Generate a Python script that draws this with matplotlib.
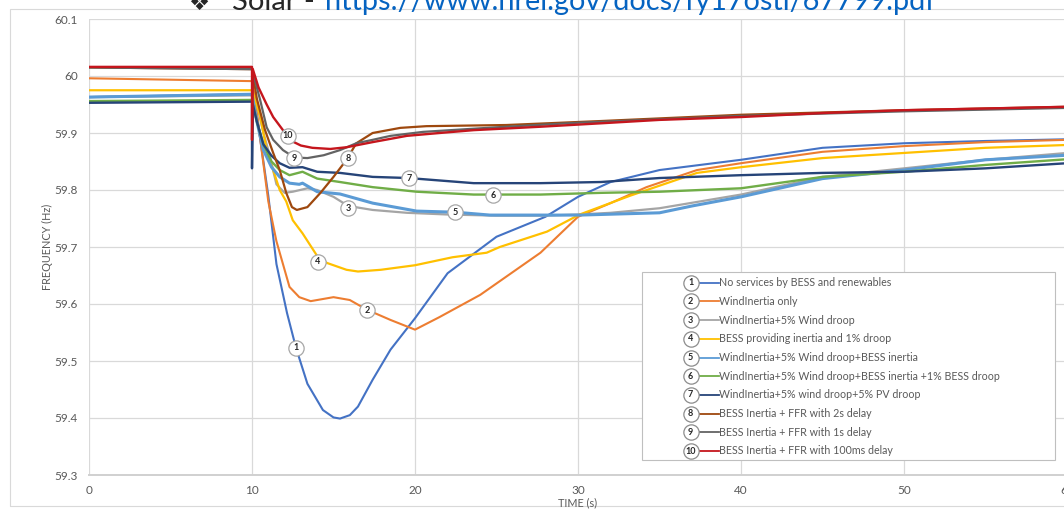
import matplotlib
matplotlib.use("Agg")
import matplotlib.pyplot as plt
from matplotlib.lines import Line2D
from matplotlib.patches import Rectangle

W, H = 1064, 509

# ---- data -------------------------------------------------------------
names = [
    "No services by BESS and renewables",
    "WindInertia only",
    "WindInertia+5% Wind droop",
    "BESS providing inertia and 1% droop",
    "WindInertia+5% Wind droop+BESS inertia",
    "WindInertia+5% Wind droop+BESS inertia +1% BESS droop",
    "WindInertia+5% wind droop+5% PV droop",
    "BESS Inertia + FFR with 2s delay",
    "BESS Inertia + FFR with 1s delay",
    "BESS Inertia + FFR with 100ms delay",
]
colors = ["#4472C4", "#ED7D31", "#A5A5A5", "#FFC000", "#5B9BD5",
          "#70AD47", "#264478", "#9E480E", "#636363", "#C5161D"]

t1 = [0, 10, 10.3, 10.7, 11.0, 11.5, 12.15, 12.7, 13.4, 14.35, 15.0, 15.4, 16.0, 16.5,
      17.4, 18.5, 20, 22, 25, 28, 30, 32, 35, 40, 45, 50, 55, 60]
f1 = [59.963, 59.968, 59.93, 59.85, 59.79, 59.67, 59.584, 59.523, 59.46, 59.414, 59.401,
      59.399, 59.405, 59.42, 59.467, 59.52, 59.575, 59.654, 59.718, 59.753, 59.788,
      59.814, 59.835, 59.853, 59.874, 59.882, 59.886, 59.889]

t2 = [0, 10, 10.2, 10.5, 11.0, 11.5, 11.9, 12.3, 12.9, 13.6, 15.0, 16.0, 17.05, 18.5,
      20, 21.5, 24, 27.7, 30, 32, 34.2, 37.3, 40, 45, 50, 55, 60]
f2 = [59.996, 59.991, 59.96, 59.89, 59.78, 59.71, 59.67, 59.63, 59.612, 59.605, 59.612,
      59.607, 59.59, 59.572, 59.555, 59.577, 59.616, 59.69, 59.753, 59.777, 59.805,
      59.835, 59.847, 59.867, 59.877, 59.884, 59.888]

t3 = [0, 10, 10.3, 10.7, 11.0, 11.5, 12.0, 12.5, 13.4, 14.0, 15.0, 15.9, 17.4, 19.5,
      22, 25, 28, 30, 32, 35, 40, 45, 50, 55, 60]
f3 = [59.963, 59.966, 59.95, 59.90, 59.87, 59.81, 59.795, 59.797, 59.803, 59.80,
      59.788, 59.772, 59.765, 59.76, 59.757, 59.755, 59.755, 59.757, 59.76, 59.768,
      59.792, 59.823, 59.838, 59.853, 59.865]

t4 = [0, 10, 10.5, 10.9, 11.3, 11.7, 12.1, 12.5, 13.1, 14.05, 14.6, 15.8, 16.5, 17.9,
      20, 22.3, 24.4, 25.2, 28.1, 30.1, 33.2, 37.3, 40, 45, 50, 55, 60]
f4 = [59.975, 59.975, 59.93, 59.87, 59.835, 59.80, 59.78, 59.747, 59.724, 59.682,
      59.672, 59.66, 59.657, 59.66, 59.668, 59.682, 59.69, 59.70, 59.727, 59.757,
      59.79, 59.83, 59.84, 59.856, 59.865, 59.874, 59.879]

t5 = [0, 10, 10.3, 10.7, 11.2, 11.7, 12.3, 12.9, 13.1, 14.0, 15.4, 17.4, 20.1, 22.5,
      24.6, 27.7, 30.1, 35, 37, 40, 45, 50, 55, 60]
f5 = [59.963, 59.968, 59.92, 59.87, 59.84, 59.823, 59.812, 59.81, 59.812, 59.797,
      59.793, 59.777, 59.763, 59.761, 59.756, 59.756, 59.756, 59.76, 59.772, 59.788,
      59.82, 59.835, 59.853, 59.861]

t6 = [0, 10, 10.3, 10.7, 11.2, 11.7, 12.3, 13.1, 14.0, 15.4, 17.4, 20.1, 23.6, 27.7,
      31.4, 35, 40, 45, 50, 55, 60]
f6 = [59.956, 59.958, 59.92, 59.88, 59.85, 59.835, 59.826, 59.832, 59.82, 59.814,
      59.805, 59.797, 59.792, 59.792, 59.795, 59.797, 59.803, 59.823, 59.832, 59.844,
      59.854]

t7 = [0, 10, 10, 10.05, 10.3, 10.7, 11.2, 11.7, 12.3, 13.1, 14.0, 15.4, 17.4, 19.6,
      23.6, 27.7, 31.4, 35, 40, 45, 50, 55, 60]
f7 = [59.953, 59.955, 59.838, 59.95, 59.92, 59.88, 59.86, 59.847, 59.839, 59.84,
      59.832, 59.83, 59.823, 59.821, 59.812, 59.812, 59.814, 59.821, 59.826, 59.83,
      59.832, 59.838, 59.847]

t8 = [0, 10, 10.3, 10.8, 11.3, 11.7, 12.1, 12.45, 12.75, 13.4, 14.2, 15.0, 15.8, 16.4,
      17.4, 19.1, 20.7, 25.6, 31.4, 40, 50, 60]
f8 = [60.015, 60.012, 59.96, 59.905, 59.865, 59.835, 59.795, 59.77, 59.765, 59.77,
      59.795, 59.823, 59.853, 59.882, 59.90, 59.909, 59.912, 59.914, 59.921, 59.932,
      59.94, 59.946]

t9 = [0, 10, 10.5, 10.9, 11.3, 11.9, 12.6, 13.4, 14.4, 15.4, 16.4, 17.4, 18.5, 20.5,
      25, 30, 40, 50, 60]
f9 = [60.015, 60.012, 59.958, 59.91, 59.888, 59.87, 59.857, 59.856, 59.861, 59.87,
      59.882, 59.888, 59.895, 59.902, 59.91, 59.918, 59.93, 59.938, 59.944]

t10 = [0, 10, 10, 10.05, 10.4, 10.9, 11.3, 11.9, 12.5, 13.0, 13.7, 14.8, 15.8, 17.4,
       19.5, 21.5, 23.6, 27.7, 31.4, 35, 40, 45, 50, 55, 60]
f10 = [60.016, 60.016, 59.888, 60.012, 59.98, 59.95, 59.928, 59.905, 59.885, 59.878,
       59.874, 59.872, 59.875, 59.884, 59.895, 59.90, 59.905, 59.911, 59.917, 59.923,
       59.928, 59.935, 59.94, 59.943, 59.946]

times = [t1, t2, t3, t4, t5, t6, t7, t8, t9, t10]
freqs = [f1, f2, f3, f4, f5, f6, f7, f8, f9, f10]
widths = [1.5, 1.5, 1.6, 1.6, 2.2, 1.7, 1.7, 1.6, 1.6, 1.7]

# circled series numbers placed on the curves (time, frequency)
tag_t = [12.7, 17.05, 15.89, 14.05, 22.45, 24.79, 19.63, 15.89, 12.58, 12.21]
tag_f = [59.523, 59.589, 59.768, 59.674, 59.761, 59.791, 59.821, 59.856, 59.856, 59.895]

x_ticks = [0, 10, 20, 30, 40, 50, 60]
y_ticks = [59.3, 59.4, 59.5, 59.6, 59.7, 59.8, 59.9, 60.0, 60.1]
y_tick_labels = ["59.3", "59.4", "59.5", "59.6", "59.7", "59.8", "59.9", "60", "60.1"]

# ---- figure -----------------------------------------------------------
FONT = ["Lato", "DejaVu Sans"]
plt.rcParams["font.family"] = FONT
GREY_TXT = "#595959"


def fx(x):
    return x / W


def fy(y):
    return 1 - y / H


fig = plt.figure(figsize=(W / 100, H / 100), dpi=100)
fig.patch.set_facecolor("white")

# outer chart frame
fig.add_artist(Rectangle((fx(10), fy(506)), fx(1070) - fx(10), fy(9) - fy(506),
                         transform=fig.transFigure, fill=False,
                         edgecolor="#D9D9D9", lw=0.8))

# heading line above the chart
fig.text(fx(188), fy(10), "\u2756", family=["DejaVu Sans"], fontsize=17,
         color="#262626", va="baseline")
fig.text(fx(232), fy(10), "Solar - ", fontsize=21, color="#262626", va="baseline")
fig.text(fx(325), fy(10), "https://www.nrel.gov/docs/fy17osti/67799.pdf",
         fontsize=20.8, color="#0563C1", va="baseline")

ax = fig.add_axes([fx(89), fy(475), fx(1067) - fx(89), fy(19) - fy(475)])
ax.set_xlim(0, 60)
ax.set_ylim(59.3, 60.1)

for t, f, c, lw in zip(times, freqs, colors, widths):
    ax.plot(t, f, color=c, lw=lw, solid_joinstyle="round", zorder=3)

for i, (tt, ff) in enumerate(zip(tag_t, tag_f)):
    ax.plot(tt, ff, "o", ms=11, mfc="white", mec="#A6A6A6", mew=0.9, zorder=5)
    ax.text(tt, ff, str(i + 1), ha="center", va="center", fontsize=6.5,
            fontweight="bold", color="#262626", zorder=6)

ax.set_xticks(x_ticks)
ax.set_yticks(y_ticks)
ax.set_yticklabels(y_tick_labels)
ax.grid(True, color="#D9D9D9", lw=0.9)
ax.set_axisbelow(True)
for s in ["top", "right", "left"]:
    ax.spines[s].set_visible(False)
ax.spines["bottom"].set_color("#D0D0D0")
ax.spines["bottom"].set_linewidth(1.4)
ax.tick_params(length=0, labelsize=8.5, labelcolor=GREY_TXT, pad=8)
ax.tick_params(axis="x", pad=7)

# axis titles
fig.text(fx(578), fy(503), "TIME (s)", fontsize=7.8, color=GREY_TXT,
         ha="center", va="center")
fig.text(fx(47), fy(247), "FREQUENCY (Hz)", fontsize=7.8, color=GREY_TXT,
         ha="center", va="center", rotation=90)

# legend panel with circled series numbers
fig.add_artist(Rectangle((fx(642), fy(460)), fx(1055) - fx(642), fy(272) - fy(460),
                         transform=fig.transFigure, facecolor="white",
                         edgecolor="#BFBFBF", lw=0.8, zorder=10))
for i, (name, c) in enumerate(zip(names, colors)):
    yy = 282.7 + i * 18.7
    fig.add_artist(Line2D([fx(698), fx(719)], [fy(yy), fy(yy)],
                          transform=fig.transFigure, color=c, lw=1.3, zorder=11))
    fig.add_artist(Line2D([fx(690.7)], [fy(yy)], transform=fig.transFigure,
                          marker="o", ms=11, mfc="white", mec="#8C8C8C", mew=0.9,
                          zorder=12))
    fig.text(fx(690.7), fy(yy), str(i + 1), ha="center", va="center", fontsize=6.5,
             fontweight="bold", color="#262626", zorder=13)
    fig.text(fx(719), fy(yy), name, ha="left", va="center", fontsize=7.7,
             color=GREY_TXT, zorder=13)

fig.savefig("out.png", dpi=100, facecolor="white")
